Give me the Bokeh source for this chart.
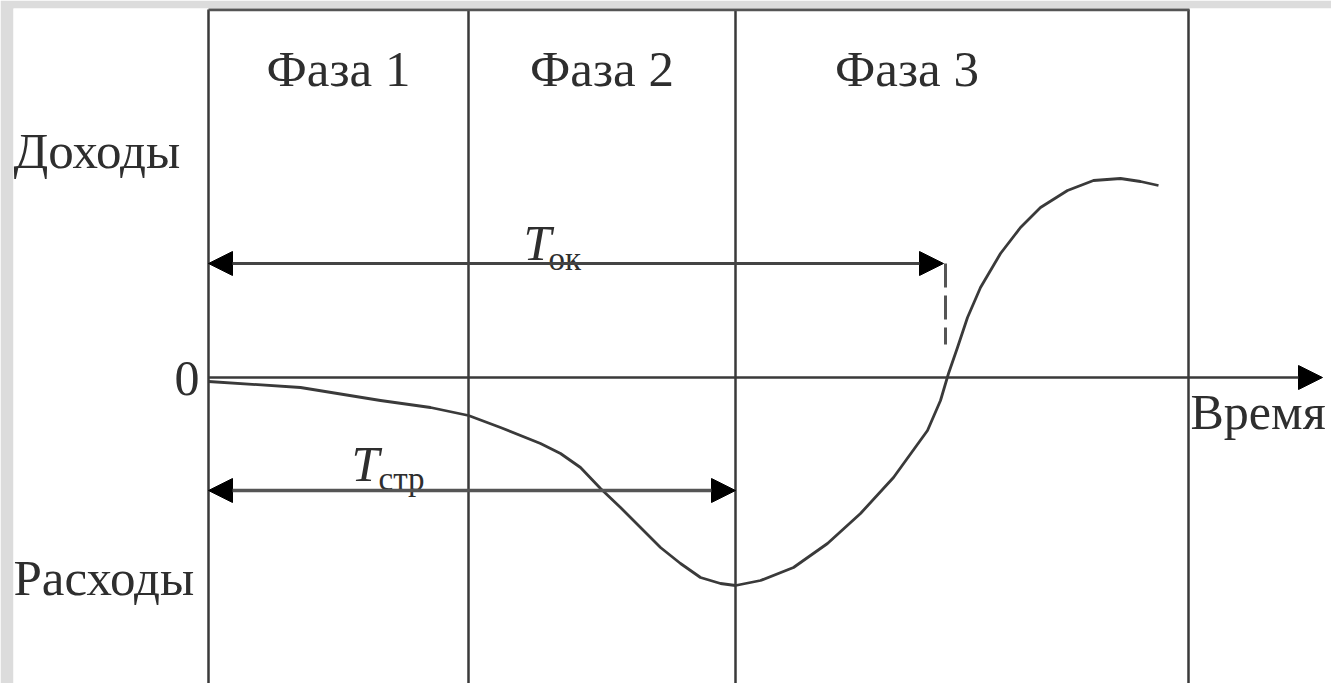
from bokeh.plotting import figure
from bokeh.models import Range1d, Arrow, NormalHead
from bokeh.core.properties import value
from bokeh.embed import file_html
from bokeh.resources import INLINE

# ---- data (time units, money units) ----
phase_bounds = [0.0, 2.60, 5.27, 9.80]
phase_labels = ["Фаза 1", "Фаза 2", "Фаза 3"]
box_top = 3.68

curve_t = [0.00, 0.92, 1.72, 2.22, 2.60, 2.92, 3.32, 3.52, 3.72, 3.92, 4.12, 4.32,
           4.52, 4.72, 4.92, 5.12, 5.27, 5.52, 5.85, 6.19, 6.52, 6.85, 7.19, 7.32,
           7.40, 7.49, 7.59, 7.72, 7.92, 8.12, 8.32, 8.59, 8.85, 9.12, 9.32, 9.50]
curve_v = [-0.04, -0.10, -0.23, -0.30, -0.38, -0.50, -0.66, -0.76, -0.90, -1.11, -1.30, -1.50,
           -1.70, -1.86, -2.00, -2.06, -2.08, -2.03, -1.90, -1.66, -1.36, -1.00, -0.53, -0.23,
           0.04, 0.30, 0.60, 0.90, 1.24, 1.50, 1.70, 1.87, 1.97, 1.99, 1.96, 1.92]

t_ok = 7.37        # payback time
t_str = 5.27       # construction time
lvl_ok = 1.14
lvl_str = -1.13
dash_end = 0.33
time_axis_end = 11.14

FONT = value("Liberation Serif")
INK = "#2e2e2e"

p = figure(width=1331, height=683, output_backend="svg", toolbar_location=None,
           x_range=Range1d(-1.95, 11.23), y_range=Range1d(-3.06, 3.69),
           x_axis_location=None, y_axis_location=None,
           min_border_left=13, min_border_right=0, min_border_top=8, min_border_bottom=0)
p.grid.visible = False
p.outline_line_color = None
p.background_fill_color = "white"
p.border_fill_color = "#dcdcdc"

# box: verticals and top line
for xb in phase_bounds:
    p.line([xb, xb], [box_top, -3.3], line_color="#3a3a3a", line_width=2.5)
p.line([phase_bounds[0], phase_bounds[-1] + 0.01], [box_top, box_top], line_color="#555555", line_width=3.5)

# time axis with arrow
p.add_layout(Arrow(end=NormalHead(size=24, fill_color="black", line_color="black"),
                   x_start=0, y_start=0, x_end=time_axis_end, y_end=0,
                   line_color="#3a3a3a", line_width=2.5))

# curve
p.line(curve_t, curve_v, line_color="#3a3a3a", line_width=2.8, line_join="round")

# T_ok arrow
p.add_layout(Arrow(start=NormalHead(size=24, fill_color="black", line_color="black"),
                   end=NormalHead(size=24, fill_color="black", line_color="black"),
                   x_start=0, y_start=lvl_ok, x_end=t_ok - 0.02, y_end=lvl_ok,
                   line_color="#444444", line_width=3))
p.line([t_ok, t_ok], [lvl_ok, dash_end], line_color="#555555", line_width=3, line_dash="24 8")

# T_str arrow
p.add_layout(Arrow(start=NormalHead(size=24, fill_color="black", line_color="black"),
                   end=NormalHead(size=24, fill_color="black", line_color="black"),
                   x_start=0, y_start=lvl_str, x_end=t_str, y_end=lvl_str,
                   line_color="#555555", line_width=3.5))

# phase labels
phase_x = [(phase_bounds[i] + phase_bounds[i + 1]) / 2 + d for i, d in enumerate([0.0, 0.0, -0.55])]
p.text(x=phase_x, y=[3.09] * 3, text=phase_labels, text_font=FONT, text_font_size="51px",
       text_align="center", text_baseline="middle", text_color=INK)

# side labels
p.text(x=[-1.95, -1.95], y=[2.27, -2.00], text=["Доходы", "Расходы"], text_font=FONT,
       text_font_size="51px", text_align="left", text_baseline="middle", text_color=INK)
p.text(x=[-0.09], y=[-0.01], text=["0"], text_font=FONT, text_font_size="50px",
       text_align="right", text_baseline="middle", text_color=INK)
p.text(x=[9.82], y=[-0.34], text=["Время"], text_font=FONT, text_font_size="50px",
       text_align="left", text_baseline="middle", text_color=INK)

# T labels
p.text(x=[1.43, 3.15], y=[-0.86, 1.35], text=["T", "T"], text_font=FONT, text_font_size="50px",
       text_font_style="italic", text_align="left", text_baseline="alphabetic", text_color=INK)
p.text(x=[1.70, 3.40], y=[-1.01, 1.19], text=["стр", "ок"], text_font=FONT, text_font_size="33px",
       text_align="left", text_baseline="alphabetic", text_color=INK)

open("out.html", "w").write(file_html(p, INLINE))
